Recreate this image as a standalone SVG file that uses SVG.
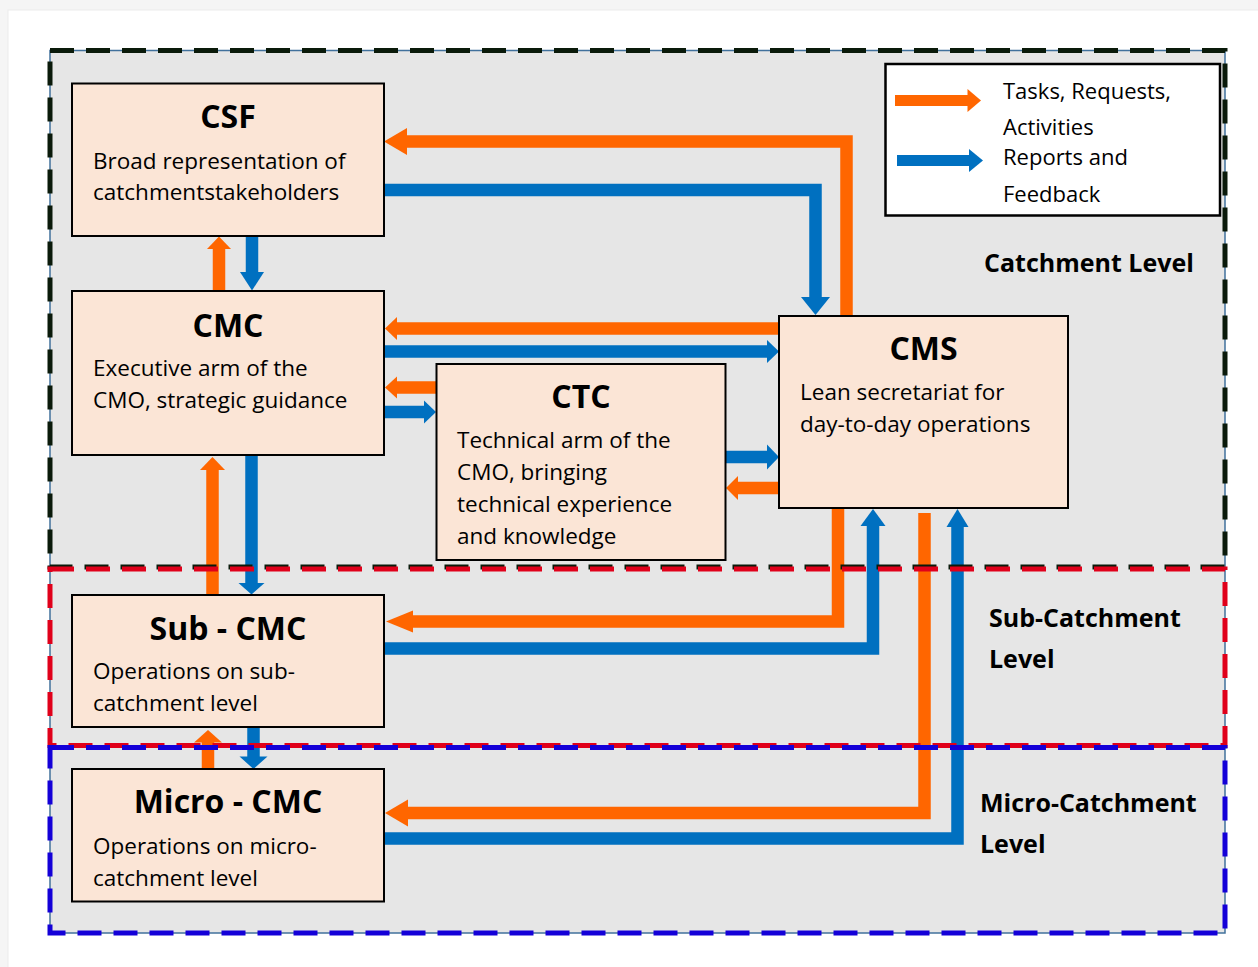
<svg xmlns="http://www.w3.org/2000/svg" width="1258" height="967" viewBox="0 0 1258 967">
<style>
.node{fill:#fbe5d6;stroke:#000;stroke-width:2}
.t{font-family:"Open Sans","Liberation Sans",sans-serif;fill:#000}
.title{font-size:32px;font-weight:bold;text-anchor:middle}
.body{font-size:22.5px}
.leg{font-size:22px}
.lvl{font-size:25px;font-weight:bold}
.os{fill:none;stroke:#ff6600;stroke-width:12.5;stroke-linejoin:miter;stroke-linecap:butt}
.bs{fill:none;stroke:#0070c0;stroke-width:12.5;stroke-linejoin:miter;stroke-linecap:butt}
.oh{fill:#ff6600}
.bh{fill:#0070c0}
</style>
<rect x="0" y="0" width="1258" height="967" fill="#f5f5f5"/>
<rect x="8" y="10" width="1260" height="970" fill="#ffffff" stroke="#ececec" stroke-width="1"/>
<g id="levels-bg">
<rect x="50" y="50.5" width="1175" height="882.5" fill="#e6e6e6" stroke="#41719c" stroke-width="1.5"/>
</g>
<g id="connectors">
<polyline class="os" points="846.5,316 846.5,141.5 406,141.5"/>
<polygon class="oh" points="384,141.5 407,128 407,155"/>
<polyline class="bs" points="384,190 815.5,190 815.5,297"/>
<polygon class="bh" points="815.5,315 801,297 830,297"/>
<polyline class="os" points="219,291 219,248"/>
<polygon class="oh" points="219,236.5 207,249 231,249"/>
<polyline class="bs" points="252,236 252,272"/>
<polygon class="bh" points="252,290.5 240,272 264,272"/>
<polyline class="os" points="779,328.5 396,328.5"/>
<polygon class="oh" points="385,328.5 397,317 397,340"/>
<polyline class="bs" points="384,351.5 767,351.5"/>
<polygon class="bh" points="779,351.5 767,340 767,363"/>
<polyline class="os" points="436,387.5 396,387.5"/>
<polygon class="oh" points="385,387.5 397,376.5 397,398.5"/>
<polyline class="bs" points="384,412 425,412"/>
<polygon class="bh" points="436,412 424,400.5 424,423.5"/>
<polyline class="bs" points="725,457 768,457"/>
<polygon class="bh" points="779,457 767,444.5 767,469.5"/>
<polyline class="os" points="779,488 737,488"/>
<polygon class="oh" points="726,488 738,476 738,500"/>
<polyline class="os" points="212.5,595 212.5,469"/>
<polygon class="oh" points="212.5,457 200,470 225,470"/>
<polyline class="bs" points="251.5,455 251.5,584"/>
<polygon class="bh" points="251.5,594.5 238.5,583 264.5,583"/>
<polyline class="os" points="838,508 838,621.5 412,621.5"/>
<polygon class="oh" points="386,621.5 413,610.5 413,632.5"/>
<polyline class="bs" points="384,648.5 873,648.5 873,525"/>
<polygon class="bh" points="873,509 860.5,526 885.5,526"/>
<polyline class="os" points="924.5,513 924.5,813 407,813"/>
<polygon class="oh" points="385,813 408,799.5 408,826.5"/>
<polyline class="bs" points="384,838.5 957.5,838.5 957.5,526"/>
<polygon class="bh" points="957.5,509 946.5,527 968.5,527"/>
<polyline class="os" points="208,769 208,742"/>
<polygon class="oh" points="208,730 194,742.5 222,742.5"/>
<polyline class="bs" points="253.5,727 253.5,757"/>
<polygon class="bh" points="253.5,769 239.5,756.5 267.5,756.5"/>
</g>
<g id="level-borders" fill="none" stroke-width="5" stroke-dasharray="24 12">
<rect x="50" y="50.5" width="1175" height="516.5" stroke="#0a1a0a"/>
<rect x="50" y="569" width="1175" height="176.5" stroke="#e0001a"/>
<rect x="50" y="747.5" width="1175" height="185.5" stroke="#1400d8"/>
</g>
<g id="level-labels" class="t lvl">
<text x="984" y="272">Catchment Level</text>
<text x="989" y="627">Sub-Catchment</text>
<text x="989" y="668">Level</text>
<text x="980" y="812">Micro-Catchment</text>
<text x="980" y="853">Level</text>
</g>
<g id="legend">
<rect x="885.5" y="64" width="334.5" height="151.5" fill="#ffffff" stroke="#000" stroke-width="2.5"/>
<rect x="895" y="95" width="73" height="11" class="oh"/>
<polygon class="oh" points="981,100.5 967.5,89 967.5,112"/>
<rect x="897" y="155" width="73" height="11" class="bh"/>
<polygon class="bh" points="983,160.5 969,149 969,172"/>
<text class="t leg" x="1003" y="99">Tasks, Requests,</text>
<text class="t leg" x="1003" y="135">Activities</text>
<text class="t leg" x="1003" y="165">Reports and</text>
<text class="t leg" x="1003" y="202">Feedback</text>
</g>
<g id="csf">
<rect class="node" x="72" y="83.5" width="312" height="152.5"/>
<text class="t title" x="228" y="128">CSF</text>
<text class="t body" x="93" y="169">Broad representation of</text>
<text class="t body" x="93" y="200">catchmentstakeholders</text>
</g>
<g id="cmc">
<rect class="node" x="72" y="291" width="312" height="164"/>
<text class="t title" x="228" y="337">CMC</text>
<text class="t body" x="93" y="376">Executive arm of the</text>
<text class="t body" x="93" y="408">CMO, strategic guidance</text>
</g>
<g id="ctc">
<rect class="node" x="436.5" y="364" width="289" height="196"/>
<text class="t title" x="581" y="408">CTC</text>
<text class="t body" x="457" y="448">Technical arm of the</text>
<text class="t body" x="457" y="480">CMO, bringing</text>
<text class="t body" x="457" y="512">technical experience</text>
<text class="t body" x="457" y="544">and knowledge</text>
</g>
<g id="cms">
<rect class="node" x="779" y="316" width="289" height="192"/>
<text class="t title" x="923.5" y="360">CMS</text>
<text class="t body" x="800" y="400">Lean secretariat for</text>
<text class="t body" x="800" y="432">day-to-day operations</text>
</g>
<g id="sub-cmc">
<rect class="node" x="72" y="595" width="312" height="132"/>
<text class="t title" x="228" y="640">Sub - CMC</text>
<text class="t body" x="93" y="679">Operations on sub-</text>
<text class="t body" x="93" y="711">catchment level</text>
</g>
<g id="micro-cmc">
<rect class="node" x="72" y="769" width="312" height="132.5"/>
<text class="t title" x="228" y="813">Micro - CMC</text>
<text class="t body" x="93" y="854">Operations on micro-</text>
<text class="t body" x="93" y="886">catchment level</text>
</g>
</svg>
